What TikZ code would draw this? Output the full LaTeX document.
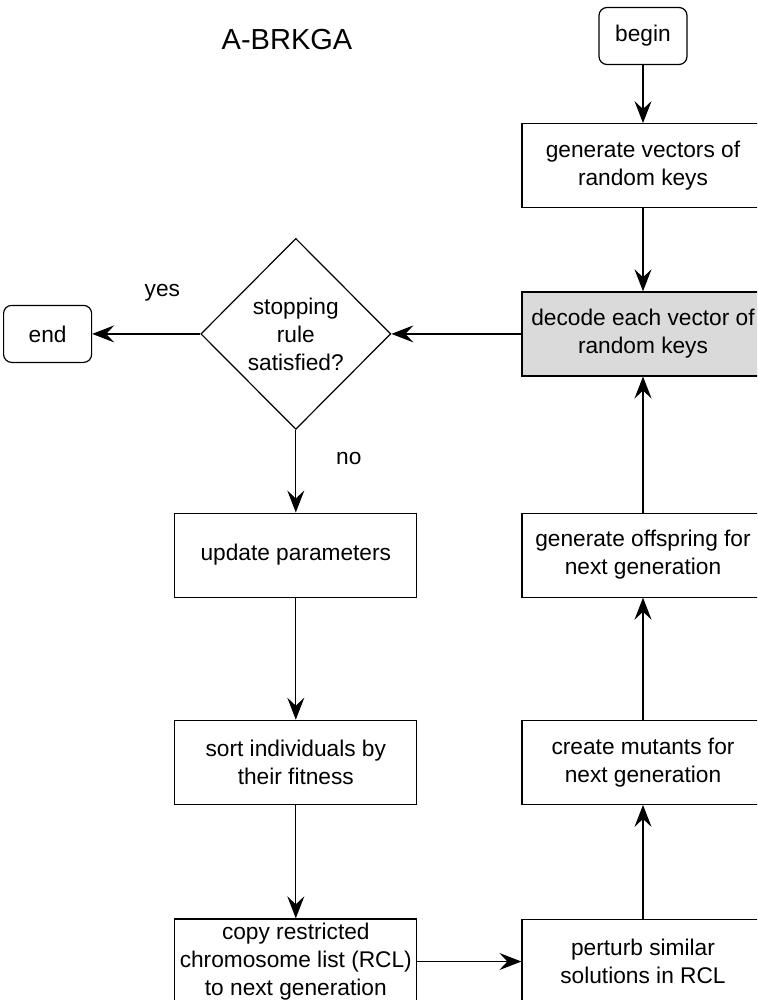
\documentclass[tikz,border=0pt]{standalone}
\usepackage{fontspec}
\setmainfont{Liberation Sans}
\usepackage{tikz}
\usetikzlibrary{shapes.geometric, arrows.meta, positioning}
\tikzset{
    flowblock/.style={rectangle, draw=black, fill=#1, minimum width=121pt, minimum height=42pt, align=center, font=\fontsize{11.35}{14}\selectfont, line width=0.6pt, inner sep=2pt},
    flowblock/.default=white,
    flowterm/.style={rectangle, draw=black, rounded corners=4pt, minimum width=44pt, minimum height=28.5pt, align=center, font=\fontsize{11.35}{14}\selectfont, line width=0.6pt},
    flowdecide/.style={diamond, draw=black, aspect=1, minimum width=95pt, minimum height=95.5pt, inner sep=0pt, align=center, font=\fontsize{11.35}{14}\selectfont, line width=0.6pt},
    flowarrow/.style={-{Stealth[length=11pt, width=8.5pt, inset=4pt]}, line width=0.6pt},
    flowannot/.style={font=\fontsize{11.35}{14}\selectfont},
    flowtitle/.style={font=\fontsize{14.5}{17}\selectfont}
}
\definecolor{decodegray}{RGB}{218,218,218}

\begin{document}
\begin{tikzpicture}[x=0.5pt, y=-0.5pt]

\useasboundingbox (0,0) rectangle (757,1000);
\clip (0,0) rectangle (757,1000);

\node[flowtitle] (title) at (287,40) {A-BRKGA};

\node[flowterm] (begin) at (643,36) {begin};
\node[flowblock, below=29pt of begin] (genkeys) {generate vectors of\\random keys};
\node[flowblock=decodegray, below=41.5pt of genkeys] (decode) {decode each vector of\\random keys};
\node[flowblock, below=68pt of decode] (offspring) {generate offspring for\\next generation};
\node[flowblock, below=61pt of offspring] (mutants) {create mutants for\\next generation};
\node[flowblock, below=57pt of mutants] (perturb) {perturb similar\\solutions in RCL};

\node[flowdecide, left=65pt of decode] (stoprule) {stopping\\rule\\satisfied?};
\node[flowterm, left=54pt of stoprule] (finish) {end};
\node[flowblock, left=52pt of offspring] (update) {update parameters};
\node[flowblock, left=52pt of mutants] (sortind) {sort individuals by\\their fitness};
\node[flowblock, left=52pt of perturb] (copyrcl) {copy restricted\\chromosome list (RCL)\\to next generation};

\draw[flowarrow] (begin) -- (genkeys);
\draw[flowarrow] (genkeys) -- (decode);
\draw[flowarrow] (decode) -- (stoprule);
\draw[flowarrow] (stoprule) -- node[pos=0.35, yshift=20.5pt, flowannot] {yes} (finish);
\draw[flowarrow] (stoprule) -- node[pos=0.35, xshift=26.5pt, flowannot] {no} (update);
\draw[flowarrow] (update) -- (sortind);
\draw[flowarrow] (sortind) -- (copyrcl);
\draw[flowarrow] (copyrcl) -- (perturb);
\draw[flowarrow] (perturb) -- (mutants);
\draw[flowarrow] (mutants) -- (offspring);
\draw[flowarrow] (offspring) -- (decode);

\end{tikzpicture}
\end{document}
